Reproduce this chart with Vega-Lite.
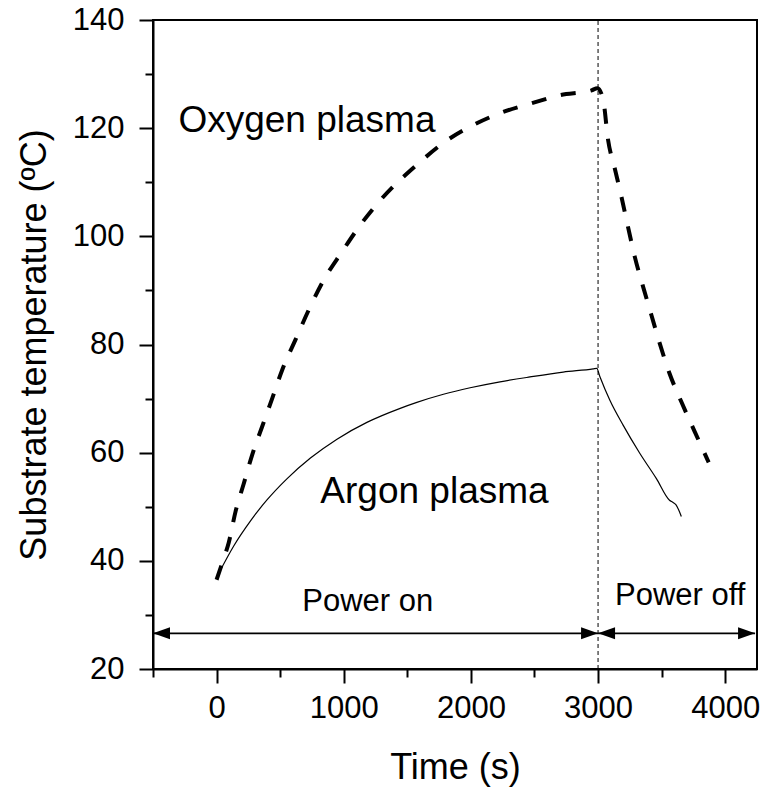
{
  "$schema": "https://vega.github.io/schema/vega-lite/v6.json",
  "autosize": "none",
  "padding": {"left": 153, "top": 20, "right": 10, "bottom": 121},
  "width": 604,
  "height": 649,
  "background": "white",
  "config": {
    "view": {"stroke": "black", "strokeWidth": 2},
    "font": "Liberation Sans",
    "axis": {
      "domainColor": "black", "domainWidth": 2, "tickColor": "black", "tickWidth": 2,
      "labelFont": "Liberation Sans", "labelFontSize": 31, "labelColor": "black",
      "titleFont": "Liberation Sans", "titleFontSize": 36, "titleFontWeight": "normal", "titleColor": "black",
      "grid": false, "labelOverlap": false
    }
  },
  "datasets": {
    "oxygen": [
      {"t": 0, "v": 36.5}, {"t": 50, "v": 40.0}, {"t": 97, "v": 43.5}, {"t": 149, "v": 49.1},
      {"t": 214, "v": 54.3}, {"t": 280, "v": 59.6}, {"t": 358, "v": 64.8}, {"t": 437, "v": 70.0},
      {"t": 516, "v": 75.3}, {"t": 619, "v": 80.8}, {"t": 725, "v": 86.4}, {"t": 842, "v": 91.9},
      {"t": 985, "v": 97.1}, {"t": 1140, "v": 102.4}, {"t": 1300, "v": 107.0}, {"t": 1574, "v": 113.2},
      {"t": 1797, "v": 117.5}, {"t": 2020, "v": 120.6}, {"t": 2255, "v": 123.0}, {"t": 2478, "v": 124.6},
      {"t": 2700, "v": 126.1}, {"t": 2949, "v": 127.0}, {"t": 2995, "v": 127.4}, {"t": 3040, "v": 125.3},
      {"t": 3079, "v": 117.8}, {"t": 3132, "v": 112.5}, {"t": 3184, "v": 107.3}, {"t": 3236, "v": 101.7},
      {"t": 3289, "v": 96.2}, {"t": 3354, "v": 90.7}, {"t": 3420, "v": 85.4}, {"t": 3485, "v": 80.2},
      {"t": 3563, "v": 74.6}, {"t": 3655, "v": 69.4}, {"t": 3760, "v": 63.9}, {"t": 3870, "v": 58.2}
    ],
    "argon": [
      {"t": 15, "v": 37.6}, {"t": 136, "v": 42.8}, {"t": 267, "v": 47.4}, {"t": 398, "v": 51.3},
      {"t": 555, "v": 55.2}, {"t": 738, "v": 59.0}, {"t": 947, "v": 62.5}, {"t": 1182, "v": 65.6},
      {"t": 1444, "v": 68.2}, {"t": 1575, "v": 69.3}, {"t": 1784, "v": 70.8}, {"t": 1994, "v": 72.0},
      {"t": 2229, "v": 73.1}, {"t": 2465, "v": 74.0}, {"t": 2726, "v": 74.9}, {"t": 2962, "v": 75.5},
      {"t": 2990, "v": 75.6}, {"t": 3014, "v": 74.1}, {"t": 3093, "v": 69.7}, {"t": 3197, "v": 65.1},
      {"t": 3328, "v": 59.9}, {"t": 3459, "v": 55.2}, {"t": 3562, "v": 51.2}, {"t": 3590, "v": 50.8},
      {"t": 3612, "v": 50.4}, {"t": 3655, "v": 48.2}
    ],
    "divider": [{"t": 3000, "v": 20, "v2": 140}],
    "arrows": [
      {"t": -500, "t2": 3000, "v": 26.6},
      {"t": 3000, "t2": 4235, "v": 26.6}
    ],
    "heads": [
      {"t": -500, "v": 26.6, "dir": "left"},
      {"t": 3000, "v": 26.6, "dir": "right"},
      {"t": 3000, "v": 26.6, "dir": "left"},
      {"t": 4235, "v": 26.6, "dir": "right"}
    ],
    "labels": [
      {"t": -300, "v": 119.3, "label": "Oxygen plasma", "size": "big"},
      {"t": 816, "v": 50.7, "label": "Argon plasma", "size": "big"},
      {"t": 1189, "v": 30.7, "label": "Power on", "size": "small"},
      {"t": 3646, "v": 31.8, "label": "Power off", "size": "small"}
    ]
  },
  "encoding": {
    "x": {
      "field": "t", "type": "quantitative",
      "scale": {"domain": [-500, 4250], "nice": false, "zero": false},
      "axis": {
        "title": "Time (s)", "format": "d",
        "values": [-500, 0, 500, 1000, 1500, 2000, 2500, 3000, 3500, 4000],
        "labelExpr": "datum.value % 1000 === 0 ? datum.label : ''",
        "tickSize": {"condition": {"test": "datum.value % 1000 === 0", "value": 14}, "value": 8},
        "labelPadding": 10,
        "titleX": 302, "titleY": 109, "titleBaseline": "alphabetic", "titleAlign": "center"
      }
    },
    "y": {
      "field": "v", "type": "quantitative",
      "scale": {"domain": [20, 140], "nice": false, "zero": false},
      "axis": {
        "title": "Substrate temperature (ºC)",
        "values": [20, 30, 40, 50, 60, 70, 80, 90, 100, 110, 120, 130, 140],
        "labelExpr": "datum.value % 20 === 0 ? datum.label : ''",
        "tickSize": {"condition": {"test": "datum.value % 20 === 0", "value": 14}, "value": 8},
        "labelPadding": 15,
        "titleX": -108, "titleY": 324.5, "titleAngle": -90, "titleBaseline": "alphabetic", "titleAlign": "center"
      }
    }
  },
  "layer": [
    {
      "data": {"name": "divider"},
      "mark": {"type": "rule", "color": "black", "strokeWidth": 1, "strokeDash": [4, 3]},
      "encoding": {"y2": {"field": "v2"}}
    },
    {
      "data": {"name": "oxygen"},
      "mark": {"type": "line", "color": "black", "strokeWidth": 4, "strokeDash": [15, 15], "interpolate": "monotone"},
      "encoding": {}
    },
    {
      "data": {"name": "argon"},
      "mark": {"type": "line", "color": "black", "strokeWidth": 1.2, "interpolate": "monotone"},
      "encoding": {}
    },
    {
      "data": {"name": "arrows"},
      "mark": {"type": "rule", "color": "black", "strokeWidth": 1.7},
      "encoding": {"x2": {"field": "t2"}}
    },
    {
      "data": {"name": "heads"},
      "mark": {"type": "point", "filled": true, "color": "black", "opacity": 1, "size": 289, "strokeWidth": 0},
      "encoding": {
        "shape": {
          "field": "dir", "type": "nominal", "legend": null,
          "scale": {"domain": ["left", "right"], "range": ["M 0 0 L 2 -0.7 L 2 0.7 Z", "M 0 0 L -2 -0.7 L -2 0.7 Z"]}
        }
      }
    },
    {
      "data": {"name": "labels"},
      "transform": [{"filter": "datum.size === 'big'"}],
      "mark": {"type": "text", "font": "Liberation Sans", "fontSize": 37, "align": "left", "baseline": "alphabetic", "color": "black"},
      "encoding": {"text": {"field": "label"}}
    },
    {
      "data": {"name": "labels"},
      "transform": [{"filter": "datum.size === 'small'"}],
      "mark": {"type": "text", "font": "Liberation Sans", "fontSize": 31, "align": "center", "baseline": "alphabetic", "color": "black"},
      "encoding": {"text": {"field": "label"}}
    }
  ]
}
